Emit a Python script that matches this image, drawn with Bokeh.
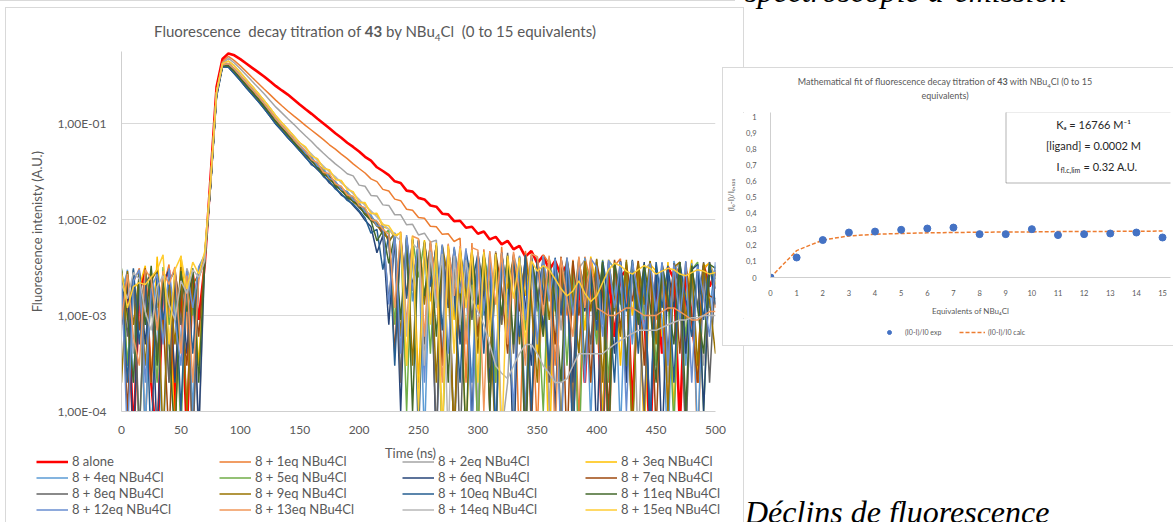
from bokeh.plotting import figure
from bokeh.models import Range1d, FixedTicker, Label, Legend, LegendItem, BoxAnnotation, Div, Spacer
from bokeh.layouts import row, column
from bokeh.embed import file_html
from bokeh.resources import INLINE

# ---------------- data: fluorescence decays (time grid, ns) ----------------
time_ns = list(range(0, 505, 5))

series_labels = ["8 alone", "8 + 1eq NBu4Cl", "8 + 2eq NBu4Cl", "8 + 3eq NBu4Cl",
                 "8 + 4eq NBu4Cl", "8 + 5eq NBu4Cl", "8 + 6eq NBu4Cl", "8 + 7eq NBu4Cl",
                 "8 + 8eq NBu4Cl", "8 + 9eq NBu4Cl", "8 + 10eq NBu4Cl", "8 + 11eq NBu4Cl",
                 "8 + 12eq NBu4Cl", "8 + 13eq NBu4Cl", "8 + 14eq NBu4Cl", "8 + 15eq NBu4Cl"]
series_colors = ["#FF0000", "#ED7D31", "#A5A5A5", "#FFC000", "#5B9BD5", "#70AD47", "#264478", "#9E480E",
                 "#636363", "#997300", "#255E91", "#43682B", "#698ED0", "#F1975A", "#B7B7B7", "#FFCD33"]

eq0 = [.0011,.0026,.00005,.0018,.0029,.0002,.00004,.0021,.0030,.0001,
       .0024,.00006,.0027,.0009,.0033,.028,.24,.47,.537,.513,
       .468,.422,.380,.343,.309,.275,.245,.221,.200,.178,
       .158,.141,.126,.112,.100,.089,.079,.071,.063,.057,
       .051,.045,.041,.035,.032,.029,.025,.024,.020,.0195,
       .0168,.0162,.0140,.0136,.0115,.0113,.0096,.0097,.0082,.0084,
       .0071,.0075,.0062,.0066,.0055,.0060,.0049,.0053,.0041,.0047,
       .0035,.0042,.0030,.0037,.0026,.0034,.00008,.0029,.0002,.0031,
       .0022,.00005,.0028,.0006,.0025,.0030,.0001,.0026,.0012,.00004,
       .0027,.0004,.0032,.0024,.00007,.0029,.0010,.0002,.0033,.0020,
       .0028]
eq1 = [.0025,.0003,.0022,.0031,.00006,.0027,.0009,.0019,.0034,.0002,
       .0028,.0010,.00005,.0030,.0038,.026,.22,.44,.501,.452,
       .398,.347,.302,.263,.229,.200,.174,.153,.135,.120,
       .107,.095,.085,.076,.068,.060,.054,.048,.043,.038,
       .034,.0305,.0265,.0248,.0206,.0198,.0163,.0157,.0128,.0125,
       .0105,.0103,.0085,.0084,.0070,.0071,.0059,.0064,.0002,.0057,
       .00005,.0049,.0011,.0002,.0052,.0007,.0044,.00004,.0047,.0018,
       .00006,.0043,.0035,.0003,.0040,.0010,.0038,.00008,.0041,.0022,
       .0006,.0036,.00003,.0033,.0039,.0002,.0034,.0014,.00009,.0037,
       .0009,.0031,.0001,.0035,.0027,.0005,.0032,.00004,.0030,.0036,
       .0012]
eq2 = [.0019,.0028,.0004,.0024,.00007,.0030,.0012,.0023,.0002,.0026,
       .0008,.0031,.0020,.00005,.0035,.025,.21,.42,.479,.427,
       .372,.320,.275,.237,.204,.174,.148,.129,.112,.098,
       .085,.074,.065,.056,.049,.043,.038,.034,.030,.0285,
       .0228,.0222,.0178,.0176,.0142,.0140,.0112,.0112,.0088,.0089,
       .0069,.0072,.0058,.0061,.0003,.0055,.00005,.0050,.0013,.0046,
       .0001,.0044,.0009,.0047,.00006,.0002,.0041,.0020,.00004,.0039,
       .0012,.0042,.0001,.0036,.0007,.0040,.00005,.0031,.0038,.0004,
       .0034,.0010,.00008,.0037,.0018,.0003,.0033,.00004,.0030,.0035,
       .0006,.0032,.0002,.0029,.0036,.00005,.0031,.0013,.0003,.0034,
       .0026]
eq3 = [.0029,.0009,.0021,.0020,.0033,.0002,.0041,.0006,.0025,.00005,
       .0042,.0011,.0024,.0003,.0044,.025,.21,.42,.447,.398,
       .339,.288,.245,.207,.174,.145,.120,.102,.087,.074,
       .063,.056,.047,.042,.035,.032,.027,.025,.021,.019,
       .0155,.0145,.0118,.0112,.0084,.0080,.0065,.0074,.0003,.0068,
       .0002,.0061,.0014,.0057,.00005,.0054,.0009,.0049,.00004,.0046,
       .0011,.0043,.0002,.0045,.0008,.0041,.00006,.0038,.0016,.0042,
       .0004,.0040,.00003,.0037,.0012,.0039,.0001,.0036,.0007,.0041,
       .0019,.00008,.0038,.0030,.0003,.0035,.0010,.0037,.00005,.0034,
       .0029,.0006,.0036,.0001,.0033,.0015,.0038,.0002,.0032,.0035,
       .0021]
eq4 = [.0014,.0030,.0002,.0026,.00006,.0028,.0011,.00004,.0023,.0030,
       .0005,.0027,.0001,.0032,.0039,.023,.20,.41,.42,.37,
       .315,.268,.228,.193,.162,.135,.112,.095,.081,.069,
       .059,.050,.044,.037,.033,.028,.0245,.021,.0192,.0165,
       .0146,.0124,.0108,.0092,.0082,.0061,.0071,.0002,.0064,.0014,
       .0058,.00005,.0055,.0022,.0004,.0051,.00004,.0047,.0018,.0002,
       .0044,.0010,.0046,.00006,.0040,.0006,.0043,.0025,.0001,.0039,
       .0011,.0041,.0003,.0036,.00005,.0038,.0016,.0004,.0040,.00008,
       .0035,.0008,.0037,.0031,.00006,.0036,.0005,.0033,.0017,.0001,
       .0034,.0009,.00004,.0037,.0021,.0003,.0035,.00005,.0031,.0012,
       .0033]
eq5 = [.0031,.0003,.0025,.00005,.0029,.0014,.0002,.0032,.0008,.0022,
       .00006,.0028,.0010,.0025,.0036,.024,.20,.41,.42,.37,
       .315,.268,.228,.193,.162,.135,.112,.095,.081,.069,
       .059,.051,.043,.038,.032,.029,.024,.0215,.0188,.0170,
       .0142,.0128,.0104,.0095,.0068,.0078,.0008,.0070,.0001,.0063,
       .0025,.0059,.0004,.0054,.00004,.0050,.0017,.0048,.0006,.0045,
       .00005,.0043,.0021,.0002,.0044,.0012,.00008,.0041,.0007,.0039,
       .0018,.0001,.0040,.0011,.0038,.0003,.0037,.00003,.0035,.0020,
       .0005,.0038,.0002,.0034,.0013,.0036,.00005,.0033,.0009,.0037,
       .0003,.0032,.0016,.00007,.0035,.0006,.0030,.0036,.0001,.0031,
       .0024]
eq6 = [.0008,.0024,.00004,.0029,.0005,.0026,.00005,.0022,.0030,.0002,
       .0025,.0004,.0029,.00006,.0040,.022,.19,.39,.385,.33,
       .28,.236,.20,.17,.143,.119,.098,.084,.071,.061,
       .052,.044,.038,.033,.029,.024,.0215,.018,.0165,.0140,
       .0120,.0098,.0084,.0045,.0068,.0008,.0066,.0001,.0062,.0020,
       .0057,.0003,.0053,.00004,.0050,.0012,.0048,.0005,.0046,.00008,
       .0042,.0016,.0002,.0044,.0009,.0040,.00003,.0039,.0013,.0003,
       .0041,.0007,.0037,.0001,.0039,.0019,.0002,.0036,.0011,.0038,
       .00005,.0034,.0015,.0004,.0037,.0002,.0035,.0010,.0036,.00006,
       .0033,.00004,.0031,.0012,.0036,.0004,.0030,.0034,.0001,.0032,
       .0019]
eq7 = [.0022,.0001,.0027,.0007,.0031,.0002,.0024,.0010,.00005,.0028,
       .0012,.0003,.0026,.0006,.0037,.023,.20,.40,.40,.35,
       .295,.25,.213,.18,.151,.126,.104,.089,.076,.064,
       .055,.047,.041,.035,.031,.027,.0228,.0205,.0176,.0160,
       .0135,.0118,.0100,.0088,.0071,.0064,.0004,.0067,.0016,.0062,
       .0001,.0058,.0022,.0053,.0003,.0051,.00004,.0047,.0014,.0045,
       .0006,.0043,.0001,.0045,.0019,.0004,.0042,.0011,.0040,.00006,
       .0039,.0013,.0038,.0005,.0041,.00004,.0037,.0010,.0035,.0002,
       .0036,.0017,.0001,.0038,.0007,.0034,.0014,.0037,.0003,.0033,
       .00006,.0035,.0011,.0031,.0004,.0036,.0009,.0002,.0034,.0016,
       .0015]
eq8 = [.0027,.0006,.0030,.00006,.0021,.0028,.0004,.0025,.0002,.0031,
       .0008,.0024,.00004,.0029,.0034,.023,.20,.40,.40,.35,
       .295,.25,.213,.18,.151,.126,.104,.089,.076,.064,
       .055,.048,.040,.036,.030,.028,.0226,.0208,.0172,.0162,
       .0132,.0120,.0097,.0090,.0074,.0014,.0069,.0002,.0065,.0018,
       .0060,.0005,.0056,.00005,.0052,.0015,.0049,.00004,.0046,.0009,
       .0044,.0020,.0003,.0043,.0008,.0045,.0004,.0041,.00006,.0040,
       .0014,.0039,.0002,.0037,.0012,.0040,.0001,.0036,.0018,.0005,
       .0038,.00004,.0035,.0011,.0037,.0003,.0034,.0015,.0001,.0036,
       .0010,.0033,.0004,.0035,.0017,.00005,.0032,.0012,.0036,.0002,
       .0030]
eq9 = [.0002,.0029,.0008,.0027,.0003,.0023,.0030,.00005,.0026,.0005,
       .0032,.0001,.0021,.0027,.0038,.024,.20,.40,.40,.35,
       .295,.25,.213,.18,.151,.126,.104,.089,.076,.064,
       .055,.046,.042,.034,.031,.026,.0232,.0198,.0180,.0152,
       .0138,.0114,.0103,.0085,.0080,.0058,.0072,.0006,.0066,.0003,
       .0062,.0013,.0057,.0002,.0054,.0024,.00005,.0050,.0016,.0048,
       .0004,.0045,.0012,.00004,.0043,.0019,.0041,.0005,.0042,.0014,
       .0002,.0040,.0009,.0038,.00006,.0039,.0016,.0004,.0037,.0011,
       .0039,.0002,.0036,.0015,.0006,.0038,.00005,.0035,.0013,.0037,
       .0005,.0034,.0001,.0032,.0036,.0009,.0033,.0003,.0035,.0014,
       .0004]
eq10 = [.0024,.0002,.0031,.0005,.0026,.00004,.0028,.0009,.0023,.0029,
        .0001,.0025,.0004,.0030,.0041,.022,.19,.39,.385,.33,
        .28,.236,.20,.17,.143,.119,.098,.084,.071,.061,
        .052,.045,.037,.034,.028,.025,.0208,.0186,.0158,.0145,
        .0124,.0104,.0072,.0079,.0030,.0070,.0003,.0064,.0015,.0061,
        .00005,.0057,.0020,.0054,.0007,.0050,.0017,.0002,.0047,.0021,
        .0044,.0004,.0042,.00005,.0045,.0013,.0040,.0006,.0043,.0001,
        .0037,.0018,.0003,.0040,.0010,.0036,.00004,.0038,.0012,.0035,
        .0007,.0037,.0016,.0002,.0036,.0011,.0038,.0004,.0034,.00006,
        .0036,.0012,.0033,.0002,.0035,.0015,.0006,.0034,.0009,.0036,
        .0013]
eq11 = [.0030,.0010,.0002,.0028,.0008,.0033,.0003,.0027,.0005,.00005,
        .0029,.0011,.0031,.0002,.0036,.023,.20,.40,.40,.35,
        .295,.25,.213,.18,.151,.126,.104,.089,.076,.064,
        .054,.048,.041,.035,.029,.028,.0222,.0203,.0169,.0155,
        .0140,.0112,.0098,.0060,.0076,.0035,.0068,.0009,.0063,.0001,
        .0060,.0016,.0056,.0006,.0053,.0002,.0050,.0021,.00005,.0047,
        .0013,.0045,.0001,.0044,.0010,.0042,.0005,.0040,.00003,.0041,
        .0017,.0006,.0039,.0014,.0002,.0038,.0011,.0040,.0003,.0037,
        .0009,.0036,.00004,.0035,.0016,.0003,.0037,.0008,.0034,.0013,
        .0002,.0035,.0015,.0005,.0036,.0001,.0033,.0012,.0004,.0034,
        .0031]
eq12 = [.0026,.00005,.0023,.0030,.0002,.0019,.0027,.0005,.0031,.0009,
        .0003,.0029,.0012,.0032,.0043,.024,.20,.41,.42,.37,
        .315,.268,.228,.193,.162,.135,.112,.095,.081,.069,
        .059,.049,.045,.036,.034,.027,.025,.0205,.0196,.0160,
        .0150,.0120,.0112,.0086,.0085,.0013,.0073,.0004,.0069,.0018,
        .0061,.0002,.0058,.0014,.0055,.0004,.0052,.0017,.0050,.00005,
        .0046,.0011,.0044,.0003,.0045,.0016,.0001,.0042,.0009,.0043,
        .0005,.0041,.0014,.0039,.00004,.0040,.0010,.0037,.0002,.0039,
        .0032,.0006,.0038,.0012,.0036,.0001,.0037,.0015,.0007,.0035,
        .0011,.0036,.0003,.0034,.0009,.0037,.0002,.0033,.0016,.0006,
        .0036]
eq13 = [.0009,.0027,.0006,.0003,.0030,.0024,.0007,.0029,.0021,.0032,
        .0004,.0026,.0002,.0024,.0039,.024,.21,.41,.42,.37,
        .315,.268,.228,.193,.162,.135,.112,.095,.081,.069,
        .059,.052,.042,.039,.031,.030,.0235,.0222,.0180,.0175,
        .0140,.0133,.0100,.0096,.0079,.0070,.0012,.0075,.0008,.0067,
        .0063,.0006,.0060,.0019,.0002,.0056,.0016,.0053,.0005,.0051,
        .0048,.0001,.0047,.0013,.0045,.0005,.0046,.0017,.0003,.0044,
        .0041,.0010,.0042,.00005,.0040,.0015,.0006,.0041,.0012,.0039,
        .0012,.0011,.0010,.0010,.0011,.0012,.0012,.0011,.0010,.0010,
        .0010,.0011,.0012,.0012,.0011,.0010,.0009,.0009,.0010,.0011,
        .0011]
eq14 = [.0021,.0015,.0028,.0024,.0011,.0007,.0020,.0026,.0013,.0009,
        .0023,.0017,.0030,.0025,.0037,.025,.21,.42,.447,.398,
        .339,.288,.245,.207,.174,.145,.120,.102,.087,.074,
        .063,.055,.048,.041,.036,.031,.028,.024,.0215,.0186,
        .0162,.0140,.0123,.0106,.0090,.0079,.0068,.0060,.0006,.0056,
        .0049,.0003,.0046,.0012,.0044,.00005,.0042,.0008,.0038,.0015,
        .0011,.0008,.0005,.0003,.00025,.00022,.0003,.0004,.0005,.0005,
        .0004,.0003,.00025,.0002,.0002,.00022,.0003,.0004,.0004,.0004,
        .0004,.0004,.00045,.0005,.00055,.0006,.00065,.0007,.0007,.0007,
        .0007,.00075,.0008,.00085,.0009,.0009,.00095,.00095,.0010,.0010,
        .0010]
eq15 = [.0028,.0012,.0020,.0022,.0021,.0025,.0030,.0043,.0005,.0030,
        .0041,.0019,.0036,.0027,.0046,.025,.21,.42,.447,.398,
        .339,.288,.245,.207,.174,.145,.120,.102,.087,.074,
        .063,.057,.046,.043,.034,.033,.026,.0255,.0205,.0195,
        .0150,.0150,.0115,.0116,.0088,.0086,.0069,.0072,.0003,.0066,
        .0001,.0059,.0008,.0055,.00005,.0053,.0004,.0050,.0012,.0048,
        .0002,.0046,.0006,.0044,.00004,.0042,.0015,.0040,.0005,.0037,
        .0029,.0033,.0030,.0024,.0019,.0016,.0018,.0023,.0017,.0014,
        .0016,.0022,.0030,.0035,.0033,.0029,.0027,.0030,.0033,.0031,
        .0027,.0029,.0031,.0030,.0027,.0026,.0028,.0030,.0029,.0027,
        .0028]
decays = [eq0, eq1, eq2, eq3, eq4, eq5, eq6, eq7, eq8, eq9, eq10, eq11, eq12, eq13, eq14, eq15]

main_x_ticks = [0, 50, 100, 150, 200, 250, 300, 350, 400, 450, 500]
main_y_ticks = [0.0001, 0.001, 0.01, 0.1]
main_y_tick_labels = ["1,00E-04", "1,00E-03", "1,00E-02", "1,00E-01"]

# ---------------- data: fit chart ----------------
equivalents = [0, 1, 2, 3, 4, 5, 6, 7, 8, 9, 10, 11, 12, 13, 14, 15]
ratio_exp = [0, 0.125, 0.234, 0.281, 0.287, 0.298, 0.306, 0.312, 0.271, 0.271, 0.302, 0.265, 0.271, 0.275, 0.281, 0.25]
ratio_calc = [0, 0.168, 0.234, 0.26, 0.27, 0.275, 0.279, 0.281, 0.283, 0.284, 0.285, 0.287, 0.287, 0.288, 0.289, 0.29]
fit_y_ticks = [0, 0.1, 0.2, 0.3, 0.4, 0.5, 0.6, 0.7, 0.8, 0.9, 1]
fit_y_tick_labels = ["0", "0,1", "0,2", "0,3", "0,4", "0,5", "0,6", "0,7", "0,8", "0,9", "1"]

FONT = "Lato"
TXT = "#595959"
FRAME = "#D9D9D9"


def hline(w):
    return Div(width=w, height=1, margin=0, text="", styles={"background-color": FRAME})


def vline(h):
    return Div(width=1, height=h, margin=0, text="", styles={"background-color": FRAME})


def strip_fig(w, h):
    # a plain strip used only to hold a legend / caption; its ranges lie away from the data
    f = figure(width=w, height=h, x_range=Range1d(-5000, -4000), y_range=Range1d(-5000, -4000),
               output_backend="svg", toolbar_location=None, x_axis_location=None, y_axis_location=None,
               min_border=0, min_border_left=0, min_border_right=0, min_border_top=0, min_border_bottom=0,
               frame_align=False)
    f.grid.visible = False
    f.outline_line_color = None
    f.background_fill_color = "white"
    f.border_fill_color = "white"
    return f


# ================= main chart =================
title_div = Div(width=737, height=43, margin=0, text=(
    '<div style="position:relative;width:737px;height:43px;">'
    '<div style="position:absolute;left:0;top:14px;width:738px;text-align:center;font-family:Lato;'
    'font-size:15px;line-height:19px;color:#595959;white-space:nowrap;">'
    'Fluorescence&nbsp; decay titration of <b>43</b> by NBu<sub style="font-size:10px;">4</sub>Cl&nbsp; '
    '(0 to 15 equivalents)</div></div>'))

p = figure(width=737, height=389, x_range=Range1d(0, 500), y_range=Range1d(0.0001, 0.5623),
           y_axis_type="log", output_backend="svg", toolbar_location=None, frame_align=False,
           min_border_left=115, min_border_right=28, min_border_top=0, min_border_bottom=29)
p.background_fill_color = "white"
p.border_fill_color = "white"
p.outline_line_color = None
p.xgrid.visible = False
p.ygrid.grid_line_color = FRAME
p.ygrid.grid_line_width = 1
p.yaxis.ticker = FixedTicker(ticks=main_y_ticks, minor_ticks=[])
p.yaxis.major_label_overrides = dict(zip(main_y_ticks, main_y_tick_labels))
p.xaxis.ticker = FixedTicker(ticks=main_x_ticks, minor_ticks=[])
for ax in (p.xaxis, p.yaxis):
    ax.axis_line_color = "#CFCFCF"
    ax.major_tick_line_color = None
    ax.minor_tick_line_color = None
    ax.major_label_text_font = FONT
    ax.major_label_text_font_size = "12px"
    ax.major_label_text_color = TXT
p.yaxis.major_label_standoff = 9
p.xaxis.major_label_standoff = 8
p.yaxis.axis_label = "Fluorescence intenisty (A.U.)"
p.yaxis.axis_label_text_font = FONT
p.yaxis.axis_label_text_font_size = "13px"
p.yaxis.axis_label_text_font_style = "normal"
p.yaxis.axis_label_text_color = TXT
p.yaxis.axis_label_standoff = 10

for lab, col, ys in zip(series_labels, series_colors, decays):
    w = 2.6 if lab == "8 alone" else 1.5
    p.line(time_ns, ys, line_color=col, line_width=w)

# legend strip (below the plot area of the main chart)
leg_fig = strip_fig(737, 82)
leg_renderers = []
for lab, col, ys in zip(series_labels, series_colors, decays):
    w = 2.6 if lab == "8 alone" else 1.5
    leg_renderers.append(leg_fig.line(time_ns, ys, line_color=col, line_width=w))
leg_fig.add_layout(Label(x=404, y=70, x_units="screen", y_units="screen", text="Time (ns)",
                         text_align="center", text_baseline="middle",
                         text_font=FONT, text_font_size="13px", text_color=TXT))
legend = Legend(items=[LegendItem(label=l, renderers=[r]) for l, r in zip(series_labels, leg_renderers)],
                location=(30, 5), orientation="horizontal", ncols=4,
                glyph_width=32, glyph_height=15, label_height=15, label_width=147, label_standoff=4,
                spacing=0, padding=0, margin=0, border_line_color=None, background_fill_alpha=0,
                label_text_font=FONT, label_text_font_size="13px", label_text_color=TXT)
leg_fig.add_layout(legend)

inner_left = column(title_div, p, leg_fig)
frame_block = column(hline(739), row(vline(514), inner_left, vline(514)))
left_block = column(hline(735), Spacer(width=735, height=6), row(Spacer(width=5, height=515), frame_block))

# ================= fit chart =================
title2_div = Div(width=450, height=44, margin=0, styles={"background-color": "white"}, text=(
    '<div style="position:relative;width:450px;height:44px;">'
    '<div style="position:absolute;left:0;top:9px;width:444px;text-align:center;font-family:Lato;'
    'font-size:9px;line-height:10px;color:#595959;white-space:nowrap;">'
    'Mathematical fit of fluorescence decay titration of <b>43</b> with NBu<sub style="font-size:6px;">4</sub>Cl (0 to 15'
    '<br>equivalents)</div></div>'))

p2 = figure(width=450, height=206, x_range=Range1d(0, 15.305), y_range=Range1d(0, 1.031),
            output_backend="svg", toolbar_location=None, frame_align=False,
            min_border_left=45, min_border_right=3, min_border_top=0, min_border_bottom=39)
p2.background_fill_color = "white"
p2.border_fill_color = "white"
p2.outline_line_color = None
p2.grid.visible = False
p2.yaxis.ticker = FixedTicker(ticks=fit_y_ticks, minor_ticks=[])
p2.yaxis.major_label_overrides = dict(zip(fit_y_ticks, fit_y_tick_labels))
p2.xaxis.ticker = FixedTicker(ticks=equivalents, minor_ticks=[])
for ax in (p2.xaxis, p2.yaxis):
    ax.axis_line_color = "#CFCFCF"
    ax.major_tick_line_color = None
    ax.minor_tick_line_color = None
    ax.major_label_text_font = FONT
    ax.major_label_text_font_size = "7.5px"
    ax.major_label_text_color = TXT
    ax.axis_label_text_font = FONT
    ax.axis_label_text_font_size = "8px"
    ax.axis_label_text_font_style = "normal"
    ax.axis_label_text_color = TXT
p2.yaxis.major_label_standoff = 8
p2.xaxis.major_label_standoff = 6
p2.xaxis.axis_label = "Equivalents of NBu\u2084Cl"
p2.xaxis.axis_label_standoff = 7
p2.yaxis.axis_label = "(I\u2080-I)/I\u2080,\u2085\u2082\u2085"
p2.yaxis.axis_label_standoff = 7

p2.line(equivalents, ratio_calc, line_color="#ED7D31", line_width=1.5, line_dash="4 2")
p2.scatter(equivalents, ratio_exp, size=7, fill_color="#4472C4", line_color="#4472C4")


def R(X, Y):
    return dict(x=X - 768, y=279 - Y, x_units="screen", y_units="screen")


p2.add_layout(BoxAnnotation(left=1003.5 - 768, right=1169.5 - 768, top=279 - 113.5, bottom=279 - 184.5,
                            left_units="screen", right_units="screen", top_units="screen", bottom_units="screen",
                            fill_color="white", fill_alpha=1, line_color="#000000", line_width=1))
BOX_TXT = "#262626"
p2.add_layout(Label(**R(1091, 126), text="K\u2090 = 16766 M\u207b\u00b9", text_align="center", text_baseline="middle",
                    text_font=FONT, text_font_size="11px", text_color=BOX_TXT))
p2.add_layout(Label(**R(1091, 147), text="[ligand] = 0.0002 M", text_align="center", text_baseline="middle",
                    text_font=FONT, text_font_size="11px", text_color=BOX_TXT))
p2.add_layout(Label(**R(1054, 168), text="I", text_align="left", text_baseline="middle",
                    text_font=FONT, text_font_size="11px", text_color=BOX_TXT))
p2.add_layout(Label(**R(1058, 171), text="fl.c,lim", text_align="left", text_baseline="middle",
                    text_font=FONT, text_font_size="7px", text_color=BOX_TXT))
p2.add_layout(Label(**R(1081, 168), text="= 0.32 A.U.", text_align="left", text_baseline="middle",
                    text_font=FONT, text_font_size="11px", text_color=BOX_TXT))

leg2_fig = strip_fig(450, 27)
d_exp = leg2_fig.scatter(equivalents, ratio_exp, size=7, fill_color="#4472C4", line_color="#4472C4")
d_calc = leg2_fig.line(equivalents, ratio_calc, line_color="#ED7D31", line_width=1.5, line_dash="4 2")
legend2 = Legend(items=[LegendItem(label="(I0-I)/I0 exp", renderers=[d_exp]),
                        LegendItem(label="(I0-I)/I0 calc", renderers=[d_calc])],
                 location=(153, 8), orientation="horizontal",
                 glyph_width=26, glyph_height=10, label_height=10, label_width=54, label_standoff=3,
                 spacing=0, padding=0, margin=0, border_line_color=None, background_fill_alpha=0,
                 label_text_font=FONT, label_text_font_size="7px", label_text_color=TXT)
leg2_fig.add_layout(legend2)

right_block = row(vline(279), column(hline(450), title2_div, p2, leg2_fig, hline(450)))

# ================= surrounding document text =================
serif = ("font-family:'Liberation Serif',serif;font-style:italic;font-size:32px;line-height:32px;"
         "white-space:nowrap;color:#000;")
top_div = Div(width=451, height=67, margin=0,
              text='<div style="position:relative;width:451px;height:67px;overflow:hidden;">'
                   '<div style="position:absolute;left:23px;top:-25px;' + serif + '">spectroscopie d\u2019\u00e9mission</div></div>')
bottom_div = Div(width=451, height=176, margin=0,
                 text='<div style="position:relative;width:451px;height:176px;overflow:hidden;">'
                      '<div style="position:absolute;left:23px;top:150px;' + serif + '">D\u00e9clins de fluorescence</div></div>')

right_col = column(top_div, right_block, bottom_div)
right_col.margin = (0, 0, 0, -22)
layout = row(left_block, right_col)

open("out.html", "w").write(file_html(layout, INLINE))
